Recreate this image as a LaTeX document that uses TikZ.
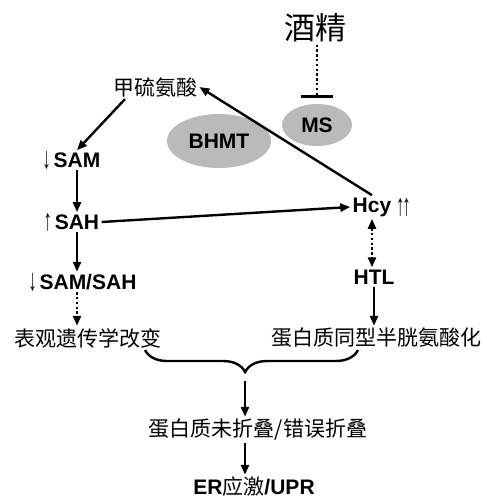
\documentclass[tikz,border=0pt]{standalone}
\usepackage{fontspec}
\setmainfont{Liberation Sans}
\newfontfamily\cjk{Noto Sans CJK SC}
\usetikzlibrary{arrows.meta,shapes.geometric,decorations.pathreplacing}
\newcommand\dn{\raisebox{-0.25ex}{\scalebox{0.8}[1.45]{\mdseries ↓}}}
\newcommand\up{\raisebox{-0.25ex}{\scalebox{0.8}[1.45]{\mdseries ↑}}}
\tikzset{
  chem/.style={font=\bfseries\fontsize{10.5}{12}\selectfont, inner sep=1pt},
  zh/.style={font=\cjk\fontsize{10.5}{12}\selectfont, inner sep=1pt},
  tick/.style={chem, inner sep=0pt},
  enzyme/.style={ellipse, fill=black!27, inner sep=0pt,
    font=\bfseries\fontsize{10.5}{12}\selectfont},
  flow/.style={-{Triangle[length=5pt,width=4pt]}, line width=1.2pt},
  dots/.style={line width=1.2pt, dash pattern=on 1.2pt off 1.2pt},
}
\begin{document}
\begin{tikzpicture}[x=0.5pt,y=-0.5pt]
  \useasboundingbox (0,0) rectangle (487,499);

  % inhibitor and enzymes
  \node[zh, font=\cjk\fontsize{15.5}{17}\selectfont] (alc) at (315,28) {酒精};
  \node[enzyme, minimum width=35pt, minimum height=21pt] (ms) at (317,125) {MS};
  \node[enzyme, minimum width=52pt, minimum height=27pt] (bhmt) at (219,141) {BHMT};

  % methionine cycle
  \node[zh] (met) at (155,87) {甲硫氨酸};
  \node[chem, label={[tick, label distance=0pt]left:\dn}] (sam) at (77,160) {SAM};
  \node[chem, label={[tick, label distance=0pt]left:\up}] (sah) at (77,222) {SAH};
  \node[chem, label={[tick, label distance=0pt]left:\dn}] (samsah) at (88,282) {SAM/SAH};
  \node[chem, label={[tick, label distance=1pt]right:\up\kern-1pt\up}] (hcy) at (372,207) {Hcy};
  \node[chem] (htl) at (374,277) {HTL};

  % outcomes
  \node[zh] (epi) at (88,338) {表观遗传学改变};
  \node[zh] (prot) at (376,338) {蛋白质同型半胱氨酸化};
  \node[zh] (misfold) at (258,430) {蛋白质未折叠/错误折叠};
  \node[chem] (er) at (254,487) {ER{\cjk\mdseries 应激}/UPR};

  \coordinate (brL) at (145,350);
  \coordinate (brR) at (358,350);
  \coordinate (brTip) at (245,381);

  % alcohol blocks MS
  \draw[dots] (alc.south -| ms.north) -- ([yshift=3.5pt]ms.north);
  \draw[line width=1.5pt] ([xshift=-8pt,yshift=3.5pt]ms.north) -- ([xshift=8pt,yshift=3.5pt]ms.north);

  % arrows
  \draw[flow] ([xshift=-15pt]met.south) -- (sam.north);
  \draw[flow] (sam) -- (sah);
  \draw[flow] (sah.south) -- (sah.south |- samsah.north);
  \draw[flow, dots] (sah.south |- samsah.south) -- (sah.south |- epi.north);
  \draw[flow] (sah.east) -- (hcy.west);
  \draw[flow] (hcy.north) -- (met.east);
  \draw[{Triangle[length=5pt,width=4pt]}-{Triangle[length=5pt,width=4pt]}, dots]
    (hcy.south) -- (hcy.south |- htl.north);
  \draw[flow] (htl.south) -- (htl.south |- prot.north);

  % both outcomes lead to misfolding
  \draw[line width=1.2pt, decorate, decoration={brace, mirror, amplitude=11pt, aspect=0.47}]
    (brL) -- (brR);
  \draw[flow] (brTip) -- (brTip |- misfold.north);
  \draw[flow] (misfold.south -| brTip) -- (brTip |- er.north);
\end{tikzpicture}
\end{document}
